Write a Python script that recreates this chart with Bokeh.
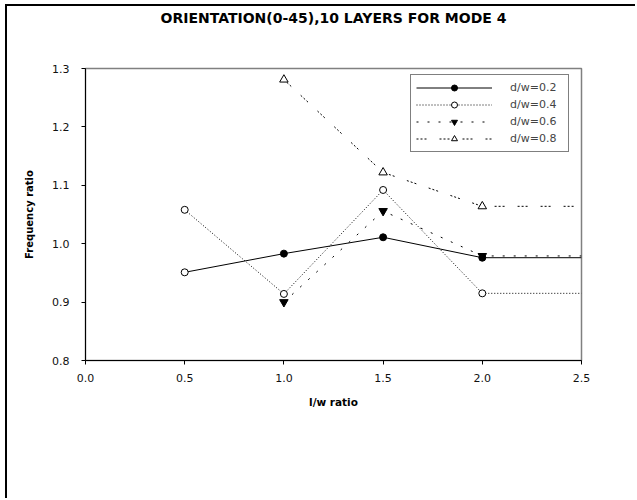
from bokeh.plotting import figure
from bokeh.models import Range1d, Legend, LegendItem, FixedTicker
from bokeh.embed import file_html
from bokeh.resources import INLINE

# ---- data ----
title_text = "ORIENTATION(0-45),10 LAYERS FOR MODE 4"
x_label = "l/w ratio"
y_label = "Frequency ratio"

x_ticks = [0.0, 0.5, 1.0, 1.5, 2.0, 2.5]
x_tick_labels = ["0.0", "0.5", "1.0", "1.5", "2.0", "2.5"]
y_ticks = [0.8, 0.9, 1.0, 1.1, 1.2, 1.3]
y_tick_labels = ["0.8", "0.9", "1.0", "1.1", "1.2", "1.3"]

series_names = ["d/w=0.2", "d/w=0.4", "d/w=0.6", "d/w=0.8"]

# data points (markers)
x_02 = [0.5, 1.0, 1.5, 2.0]
y_02 = [0.951, 0.983, 1.011, 0.976]
open_02 = [True, False, False, False]

x_04 = [0.5, 1.0, 1.5, 2.0]
y_04 = [1.058, 0.914, 1.092, 0.915]

x_06 = [1.0, 1.5, 2.0]
y_06 = [0.900, 1.056, 0.979]

x_08 = [1.0, 1.5, 2.0]
y_08 = [1.281, 1.122, 1.064]

# lines continue flat to the right edge of the axis
x_end = 2.5

FONT = "DejaVu Sans"

p = figure(width=636, height=500, output_backend="svg", toolbar_location=None,
           x_range=Range1d(0.0, 2.5), y_range=Range1d(0.8, 1.3),
           min_border_left=86, min_border_right=54,
           min_border_top=70, min_border_bottom=138)
p.styles = {"margin": "-2px 0px -8px -1px",
            "background": "linear-gradient(#000, #000) 6px 6px / 2px calc(100% - 6px) no-repeat, "
                          "linear-gradient(#000, #000) 6px 6px / calc(100% - 6px) 2px no-repeat, #ffffff"}

# title: extra blank lines push the title line up toward the top of the page
p.title.text = title_text + "\n \n "
p.title.align = "center"
p.title.vertical_align = "top"
p.title.text_font = FONT
p.title.text_font_style = "bold"
p.title.text_font_size = "14px"
p.title.text_color = "black"
p.title.standoff = 18

p.grid.visible = False
p.background_fill_color = "white"
p.border_fill_color = "white"
p.border_fill_alpha = 0
p.outline_line_color = "#808080"
p.outline_line_width = 1.5

for ax in (p.xaxis[0], p.yaxis[0]):
    ax.axis_line_color = "black"
    ax.axis_line_width = 1
    ax.major_tick_line_color = "black"
    ax.major_tick_in = 0
    ax.major_tick_out = 4
    ax.minor_tick_line_color = None
    ax.major_label_text_font = FONT
    ax.major_label_text_font_size = "11px"
    ax.major_label_text_color = "#111111"
    ax.axis_label_text_font = FONT
    ax.axis_label_text_font_style = "bold"
    ax.axis_label_text_color = "black"

p.xaxis.axis_label_text_font_size = "10.5px"
p.yaxis.axis_label_text_font_size = "10px"
p.xaxis.ticker = FixedTicker(ticks=x_ticks)
p.xaxis.major_label_overrides = dict(zip(x_ticks, x_tick_labels))
p.yaxis.ticker = FixedTicker(ticks=y_ticks)
p.yaxis.major_label_overrides = dict(zip(y_ticks, y_tick_labels))
p.xaxis.axis_label = x_label
p.yaxis.axis_label = y_label
p.xaxis.major_label_standoff = 9
p.yaxis.major_label_standoff = 12
p.xaxis.axis_label_standoff = 11
p.yaxis.axis_label_standoff = 14

# ---- series ----
def ext(xs, ys):
    return list(xs) + [x_end], list(ys) + [ys[-1]]

lx, ly = ext(x_02, y_02)
l02 = p.line(lx, ly, line_color="black", line_width=1)
m02_open = p.scatter([x for x, o in zip(x_02, open_02) if o],
                     [y for y, o in zip(y_02, open_02) if o],
                     marker="circle", size=7, line_color="black", fill_color="white")
m02 = p.scatter([x for x, o in zip(x_02, open_02) if not o],
                [y for y, o in zip(y_02, open_02) if not o],
                marker="circle", size=7, line_color="black", fill_color="black")

lx, ly = ext(x_04, y_04)
l04 = p.line(lx, ly, line_color="black", line_width=1, line_dash="1 2")
m04 = p.scatter(x_04, y_04, marker="circle", size=7, line_color="black", fill_color="white")

lx, ly = ext(x_06, y_06)
l06 = p.line(lx, ly, line_color="black", line_width=1, line_dash="2 9")
m06 = p.scatter(x_06, y_06, marker="inverted_triangle", size=8.5, line_color="black", fill_color="black")

lx, ly = ext(x_08, y_08)
l08 = p.line(lx, ly, line_color="black", line_width=1, line_dash="2 2 2 2 2 13")
m08 = p.scatter(x_08, y_08, marker="triangle", size=8.5, line_color="black", fill_color="white")

legend = Legend(items=[
    LegendItem(label=series_names[0], renderers=[l02, m02]),
    LegendItem(label=series_names[1], renderers=[l04, m04]),
    LegendItem(label=series_names[2], renderers=[l06, m06]),
    LegendItem(label=series_names[3], renderers=[l08, m08]),
], location=(325, 208))
legend.margin = 0
legend.padding = 5
legend.spacing = 2
legend.glyph_width = 76
legend.glyph_height = 15
legend.label_height = 15
legend.label_width = 53
legend.label_standoff = 18
legend.label_text_font = FONT
legend.label_text_font_size = "11px"
legend.border_line_color = "black"
legend.border_line_width = 1
legend.background_fill_color = "white"
legend.background_fill_alpha = 1
p.add_layout(legend, "center")

open("out.html", "w").write(file_html(p, INLINE))
